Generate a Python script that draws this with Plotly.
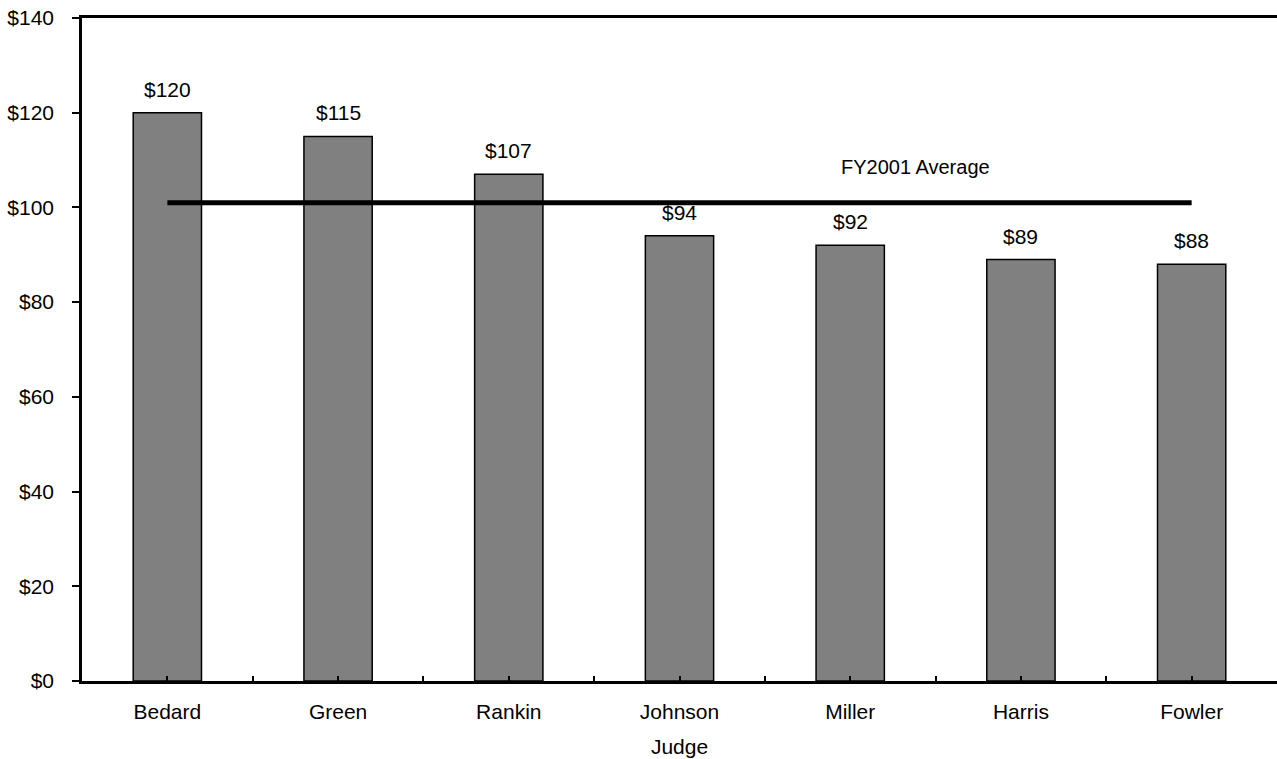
import plotly.graph_objects as go

judges = ["Bedard", "Green", "Rankin", "Johnson", "Miller", "Harris", "Fowler"]
values = [120, 115, 107, 94, 92, 89, 88]
average_value = 101
average_label = "FY2001 Average"
y_ticks = [0, 20, 40, 60, 80, 100, 120, 140]
y_tick_labels = ["$" + str(v) for v in y_ticks]

xs = list(range(len(judges)))
family = "Liberation Sans, Arial, sans-serif"
font = dict(family=family, size=21, color="black")

fig = go.Figure()
fig.add_trace(go.Bar(
    x=xs, y=values, width=0.4,
    marker=dict(color="#808080", line=dict(color="black", width=1.5)),
    showlegend=False, hoverinfo="x+y",
))
for x, v in zip(xs, values):
    fig.add_annotation(x=x, y=v, text="$" + str(v), showarrow=False,
                       yanchor="bottom", yshift=10, font=font)
fig.add_trace(go.Scatter(
    x=[xs[0], xs[-1]], y=[average_value, average_value], mode="lines",
    line=dict(color="black", width=5), showlegend=False,
))
fig.add_annotation(x=4.38, y=108.5, text=average_label, showarrow=False,
                   font=dict(family=family, size=20, color="black"))

tickvals = []
ticktext = []
for i, name in enumerate(judges):
    tickvals += [i - 0.5, i]
    ticktext += ["", name]
tickvals.append(len(judges) - 0.5)
ticktext.append("")

fig.update_layout(
    width=1277, height=759,
    margin=dict(l=82, r=0, t=18, b=78),
    paper_bgcolor="white", plot_bgcolor="white",
    font=font, bargap=0.6,
    xaxis=dict(
        range=[-0.5, len(judges) - 0.5], tickmode="array",
        tickvals=tickvals, ticktext=ticktext,
        ticks="inside", ticklen=5, tickcolor="black", tickwidth=1.5,
        showline=True, linecolor="black", linewidth=2.5, mirror=True,
        showgrid=False, zeroline=False, automargin=False,
        ticklabelstandoff=10, tickfont=font,
        title=dict(text="Judge", font=font, standoff=18),
    ),
    yaxis=dict(
        range=[0, 140], tickmode="array", tickvals=y_ticks, ticktext=y_tick_labels,
        ticks="outside", ticklen=7, tickcolor="black", tickwidth=1.5,
        showline=True, linecolor="black", linewidth=2.5,
        showgrid=False, zeroline=False, automargin=False,
        ticklabelstandoff=14, tickfont=font,
    ),
)

fig.write_html(
    "out.html",
    config={"displayModeBar": False},
    post_script="document.body.style.margin='0';document.body.style.overflow='hidden';",
)
